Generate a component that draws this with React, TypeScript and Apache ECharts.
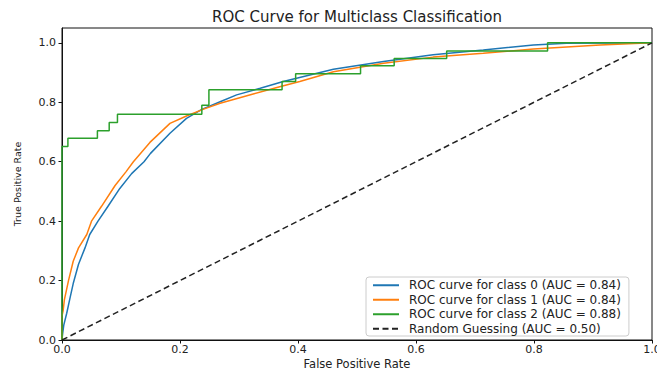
import React, { useEffect, useRef } from "react";
import * as echarts from "echarts";

const titleText = "ROC Curve for Multiclass Classification";
const xTicks = [0, 0.2, 0.4, 0.6, 0.8, 1.0];
const yTicks = [0, 0.2, 0.4, 0.6, 0.8, 1.0];

const class0Fpr = [0, 0.001, 0.003, 0.008, 0.014, 0.019, 0.028, 0.039, 0.047, 0.061, 0.078, 0.098, 0.118, 0.139, 0.15, 0.183, 0.211, 0.237, 0.268, 0.296, 0.336, 0.375, 0.46, 0.545, 0.629, 0.714, 0.799, 0.855, 1.0];
const class0Tpr = [0, 0.02, 0.05, 0.09, 0.145, 0.19, 0.255, 0.31, 0.355, 0.4, 0.45, 0.51, 0.56, 0.6, 0.628, 0.696, 0.746, 0.776, 0.802, 0.825, 0.847, 0.87, 0.911, 0.937, 0.96, 0.976, 0.993, 0.999, 1.0];

const class1Fpr = [0, 0, 0.002, 0.004, 0.011, 0.019, 0.028, 0.042, 0.05, 0.067, 0.09, 0.108, 0.121, 0.149, 0.183, 0.211, 0.24, 0.268, 0.324, 0.369, 0.403, 0.46, 0.545, 0.629, 0.714, 0.799, 0.912, 1.0];
const class1Tpr = [0, 0.08, 0.1, 0.135, 0.2, 0.265, 0.31, 0.355, 0.4, 0.45, 0.52, 0.565, 0.6, 0.665, 0.729, 0.754, 0.777, 0.797, 0.828, 0.852, 0.87, 0.903, 0.931, 0.952, 0.965, 0.979, 0.993, 1.0];

const class2Fpr = [0, 0, 0.01, 0.01, 0.06, 0.06, 0.08, 0.08, 0.094, 0.094, 0.237, 0.237, 0.249, 0.249, 0.373, 0.373, 0.396, 0.396, 0.506, 0.506, 0.563, 0.563, 0.652, 0.652, 0.823, 0.823, 1.0];
const class2Tpr = [0, 0.651, 0.651, 0.679, 0.679, 0.704, 0.704, 0.732, 0.732, 0.76, 0.76, 0.79, 0.79, 0.842, 0.842, 0.87, 0.87, 0.896, 0.896, 0.923, 0.923, 0.947, 0.947, 0.973, 0.973, 1.0, 1.0];

const randomFpr = [0, 1];
const randomTpr = [0, 1];

const seriesNames = [
  "ROC curve for class 0 (AUC = 0.84)",
  "ROC curve for class 1 (AUC = 0.84)",
  "ROC curve for class 2 (AUC = 0.88)",
  "Random Guessing (AUC = 0.50)",
];

const zip = (xs: number[], ys: number[]) => xs.map((x, i) => [x, ys[i]]);

const FONT = "DejaVu Sans";

export default function App() {
  const ref = useRef<HTMLDivElement>(null);
  useEffect(() => {
    if (!ref.current) return;
    const chart = echarts.init(ref.current, undefined, { renderer: "svg" });
    const lineSeries = (name: string, data: number[][], color: string, z: number, type: any = "solid") => ({
      name,
      type: "line",
      data,
      symbol: "none",
      showSymbol: false,
      z,
      lineStyle: { color, width: 1.5, type },
      itemStyle: { color },
      emphasis: { disabled: true },
    });
    chart.setOption({
      animation: false,
      graphic: [
        {
          type: "text",
          x: 357,
          y: 17,
          style: {
            text: titleText,
            textAlign: "center",
            textVerticalAlign: "middle",
            font: `15px "${FONT}"`,
            fill: "#222",
          },
        },
      ],
      grid: {
        left: 62,
        right: 5,
        top: 28,
        bottom: 30,
        containLabel: false,
        outerBoundsMode: "none",
        show: true,
        borderColor: "#111",
        borderWidth: 1,
        backgroundColor: "transparent",
      },
      legend: {
        orient: "vertical",
        left: 366,
        top: 277,
        padding: [1, 8, 0, 6],
        itemGap: 0,
        itemWidth: 26,
        itemHeight: 12,
        backgroundColor: "rgba(255,255,255,0.85)",
        borderColor: "#cccccc",
        borderWidth: 1,
        borderRadius: 3,
        itemStyle: { opacity: 0, borderWidth: 0 },
        textStyle: { fontFamily: FONT, fontSize: 12, lineHeight: 14.5, color: "#222", padding: [0, 0, 0, 5] },
        data: seriesNames,
      },
      xAxis: {
        type: "value",
        min: 0,
        max: 1,
        interval: 0.2,
        name: "False Positive Rate",
        nameLocation: "middle",
        nameGap: 17,
        nameMoveOverlap: false,
        nameTextStyle: { fontFamily: FONT, fontSize: 11.5, lineHeight: 13, color: "#222" },
        splitLine: { show: false },
        axisLine: { show: true, onZero: false, lineStyle: { color: "#111" } },
        axisTick: { show: true, length: 3.5, lineStyle: { color: "#111" }, customValues: xTicks },
        axisLabel: {
          fontFamily: FONT,
          fontSize: 11,
          color: "#222",
          margin: 4,
          hideOverlap: false,
          customValues: xTicks,
          formatter: (v: number) => v.toFixed(1),
        },
      },
      yAxis: {
        type: "value",
        min: 0,
        max: 1.05,
        name: "True Positive Rate",
        nameLocation: "middle",
        nameGap: 40,
        nameRotate: 90,
        nameMoveOverlap: false,
        nameTextStyle: { fontFamily: FONT, fontSize: 9.5, color: "#222" },
        splitLine: { show: false },
        axisLine: { show: true, onZero: false, lineStyle: { color: "#111" } },
        axisTick: { show: true, length: 3.5, lineStyle: { color: "#111" }, customValues: yTicks },
        axisLabel: {
          fontFamily: FONT,
          fontSize: 11,
          color: "#222",
          margin: 6,
          customValues: yTicks,
          formatter: (v: number) => v.toFixed(1),
        },
      },
      series: [
        lineSeries(seriesNames[0], zip(class0Fpr, class0Tpr), "#1f77b4", 2),
        lineSeries(seriesNames[1], zip(class1Fpr, class1Tpr), "#ff7f0e", 3),
        lineSeries(seriesNames[2], zip(class2Fpr, class2Tpr), "#2ca02c", 4),
        lineSeries(seriesNames[3], zip(randomFpr, randomTpr), "#222222", 5, [6, 3.5]),
      ],
    });
    return () => chart.dispose();
  }, []);
  return (
    <div
      ref={ref}
      style={{ position: "fixed", left: 0, top: 0, width: 657, height: 370, background: "#fff" }}
    />
  );
}
